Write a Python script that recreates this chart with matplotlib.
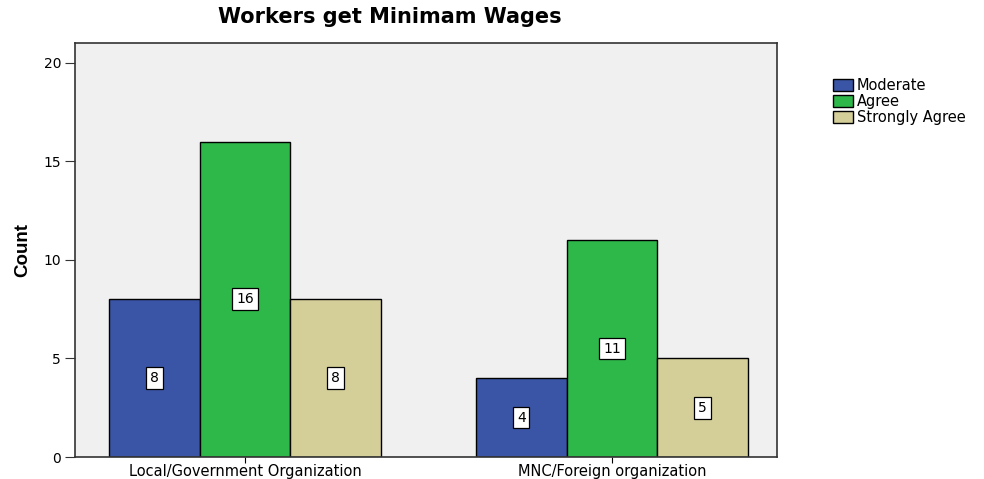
import matplotlib.pyplot as plt
import numpy as np

plt.rcParams['font.family'] = ['DejaVu Sans']

# Survey counts by organization type
groups = ['Local/Government Organization', 'MNC/Foreign organization']
responses = ['Moderate', 'Agree', 'Strongly Agree']
moderate = [8, 4]
agree = [16, 11]
strongly_agree = [8, 5]

colors = ['#3b55a6', '#2fb84a', '#d4ce98']
series = [moderate, agree, strongly_agree]

fig = plt.figure(figsize=(9.84, 4.79), dpi=100)
ax = fig.add_axes([0.0762, 0.0459, 0.7134, 0.8641])
ax.set_facecolor('#f0f0f0')

x = np.arange(len(groups))
width = 0.247
for i, (vals, name, col) in enumerate(zip(series, responses, colors)):
    pos = x + (i - 1) * width
    ax.bar(pos, vals, width, color=col, edgecolor='black', linewidth=1,
           label=name, zorder=2)
    for p, v in zip(pos, vals):
        ax.text(p, v / 2, str(v), ha='center', va='center', fontsize=10,
                bbox=dict(boxstyle='square,pad=0.28', fc='white', ec='black',
                          lw=0.9), zorder=3)

ax.set_xlim(-0.463, 1.45)
ax.set_ylim(0, 21.0)
ax.set_yticks([0, 5, 10, 15, 20])
ax.set_xticks(x)
ax.set_xticklabels(groups, fontsize=10.5)
ax.tick_params(axis='y', labelsize=10, length=7, direction='out', pad=3,
               colors='#333333', labelcolor='black')
ax.tick_params(axis='x', length=4, direction='out', pad=1)
ax.set_ylabel('Count', fontsize=13.5, fontweight='heavy', labelpad=9,
              family='Liberation Sans')
for s in ax.spines.values():
    s.set_linewidth(1.2)
    s.set_color('#333333')

fig.suptitle('Workers get Minimam Wages', x=0.396, y=0.985, fontsize=15,
             fontweight='bold')

ax.legend(loc='upper left', bbox_to_anchor=(1.071, 0.93), frameon=False,
          fontsize=10.5, handlelength=1.4, handleheight=0.85, handletextpad=0.25,
          labelspacing=0.08, borderaxespad=0)

plt.savefig('out.png', dpi=100)
